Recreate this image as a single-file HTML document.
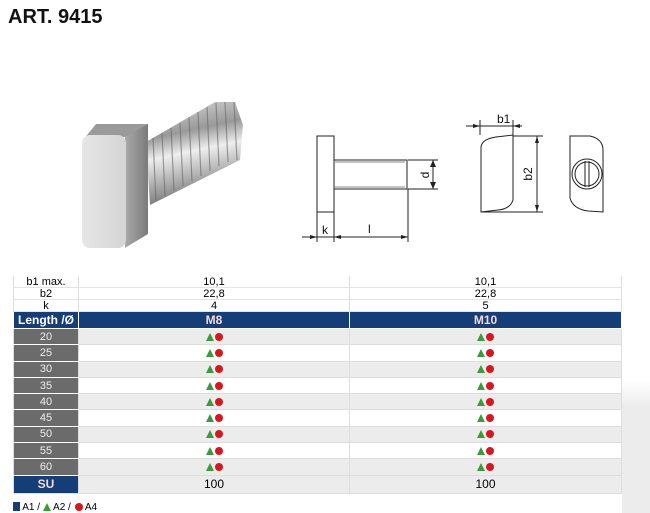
<!DOCTYPE html>
<html><head><meta charset="utf-8"><style>
body{margin:0;width:650px;height:513px;background:#fff;position:relative;overflow:hidden;font-family:"Liberation Sans",sans-serif}
.t{position:absolute;left:8px;top:6px;font-weight:bold;font-size:20px;color:#111}
table{position:absolute;left:13px;top:276px;border-collapse:collapse;font-family:"Liberation Sans Narrow","Liberation Sans",sans-serif;font-size:11px}
td{padding:0;text-align:center;border-left:1px solid #ddd;border-right:1px solid #ddd;line-height:10px}
td.a{width:64px}td.b{width:270px}td.c{width:271px}
tr.top td{height:11px;border-bottom:1px solid #e4e4e4}
tr.h td{background:#153e79;color:#fff;font-weight:bold;height:16px;font-size:12px;border:1px solid #fff}
tr.h td.b,tr.h td.c{color:#f7d9d9}
tr.d td{height:15.3px;border-bottom:1px solid #ddd}
tr.d td.a{background:#6b6b6b;color:#eee;border-bottom:1px solid #fff}
tr.g td.b,tr.g td.c{background:#ececec}
.tri{display:inline-block;width:0;height:0;border-left:4px solid transparent;border-right:4px solid transparent;border-bottom:8px solid #3c9a3a;vertical-align:-1px}
.dot{display:inline-block;width:8px;height:8px;border-radius:50%;background:#d8161e;margin-left:1px;vertical-align:-1px}
tr.s td{height:17px;background:#ececec;font-size:12px;border-bottom:1px solid #ddd}
tr.s td.a{background:#153e79;color:#f7d9d9;font-weight:bold}
</style></head><body>
<div style="position:absolute;left:622px;top:380px;width:28px;height:133px;background:linear-gradient(#fff,#ececec 20%)"></div>
<div class="t">ART. 9415</div>
<svg width="650" height="270" style="position:absolute;left:0;top:0">
<defs>
<linearGradient id="sh" x1="0" y1="0" x2="0.2" y2="1"><stop offset="0" stop-color="#ddd"/><stop offset="0.35" stop-color="#999"/><stop offset="0.55" stop-color="#eee"/><stop offset="1" stop-color="#777"/></linearGradient>
<linearGradient id="fr" x1="0" y1="0" x2="1" y2="0"><stop offset="0" stop-color="#e6e6e6"/><stop offset="1" stop-color="#d4d4d4"/></linearGradient>
<linearGradient id="sd" x1="0" y1="0" x2="1" y2="0"><stop offset="0" stop-color="#aaa"/><stop offset="1" stop-color="#7a7a7a"/></linearGradient>
</defs>
<polygon points="146,142 215,102 235,102 243,125 240,160 150,205" fill="url(#sh)"/>
<g stroke="#666" stroke-width="1.2" opacity="0.6">
<line x1="153" y1="138" x2="156" y2="201"/><line x1="162" y1="133" x2="165" y2="196"/><line x1="171" y1="128" x2="174" y2="191"/><line x1="180" y1="123" x2="183" y2="186"/><line x1="189" y1="117" x2="192" y2="181"/><line x1="198" y1="112" x2="201" y2="176"/><line x1="207" y1="107" x2="210" y2="171"/><line x1="216" y1="103" x2="219" y2="166"/><line x1="225" y1="102" x2="228" y2="162"/><line x1="234" y1="102" x2="237" y2="160"/>
</g>
<polygon points="125,136 148,124 148,234 125,248" fill="url(#sd)"/>
<polygon points="83,140 96,124 148,124 125,137" fill="#9a9a9a"/>
<rect x="82" y="135" width="44" height="113" rx="8" fill="url(#fr)"/>
<g fill="none" stroke="#222" stroke-width="1">
<rect x="317" y="136" width="17" height="76"/>
<rect x="334" y="160" width="73" height="29"/>
<line x1="334" y1="162" x2="405" y2="162" stroke="#888"/><line x1="334" y1="187" x2="405" y2="187" stroke="#888"/>
<line x1="408" y1="160" x2="438" y2="160"/><line x1="408" y1="189" x2="438" y2="189"/>
<line x1="433" y1="160" x2="433" y2="189"/>
<line x1="317" y1="212" x2="317" y2="242"/><line x1="334" y1="212" x2="334" y2="242"/><line x1="408" y1="189" x2="408" y2="242"/>
<line x1="302" y1="237" x2="408" y2="237"/>
<path d="M481,147 Q482,139 496,137 L513,135 L513,200 Q510,209 498,210 L481,212 Z"/>
<line x1="480" y1="135" x2="480" y2="120"/><line x1="513" y1="135" x2="513" y2="120"/>
<line x1="466" y1="126" x2="522" y2="126"/>
<line x1="513" y1="136" x2="543" y2="136"/><line x1="481" y1="212" x2="543" y2="212"/>
<line x1="537" y1="136" x2="537" y2="212"/>
<path d="M570,136 L590,136 Q603,139 603,150 L603,212 L588,211 Q573,209 570,198 Z"/>
<circle cx="587" cy="174" r="15"/><circle cx="587" cy="174" r="12"/>
<line x1="585" y1="161" x2="585" y2="187"/><line x1="589" y1="161" x2="589" y2="187"/>
</g>
<g fill="#222">
<polygon points="433,160 430,167 436,167"/><polygon points="433,189 430,182 436,182"/>
<polygon points="317,237 310,235 310,239"/><polygon points="334,237 341,235 341,239"/><polygon points="408,237 401,235 401,239"/>
<polygon points="480,126 473,124 473,128"/><polygon points="513,126 520,124 520,128"/>
<polygon points="537,136 535,143 539,143"/><polygon points="537,212 535,205 539,205"/>
</g>
<g font-family="Liberation Sans" font-size="12" fill="#111">
<text x="322" y="234">k</text><text x="368" y="233">l</text>
<text x="497" y="123">b1</text>
<text transform="translate(429,175) rotate(-90)" text-anchor="middle">d</text>
<text transform="translate(532,174) rotate(-90)" text-anchor="middle">b2</text>
</g>
</svg>
<table>
<tr class="top"><td class="a">b1 max.</td><td class="b">10,1</td><td class="c">10,1</td></tr>
<tr class="top"><td class="a">b2</td><td class="b">22,8</td><td class="c">22,8</td></tr>
<tr class="top"><td class="a">k</td><td class="b">4</td><td class="c">5</td></tr>
<tr class="h"><td class="a">Length /Ø</td><td class="b">M8</td><td class="c">M10</td></tr>
<tr class="d g"><td class="a">20</td><td class="b"><i class="tri"></i><i class="dot"></i></td><td class="c"><i class="tri"></i><i class="dot"></i></td></tr>
<tr class="d"><td class="a">25</td><td class="b"><i class="tri"></i><i class="dot"></i></td><td class="c"><i class="tri"></i><i class="dot"></i></td></tr>
<tr class="d g"><td class="a">30</td><td class="b"><i class="tri"></i><i class="dot"></i></td><td class="c"><i class="tri"></i><i class="dot"></i></td></tr>
<tr class="d"><td class="a">35</td><td class="b"><i class="tri"></i><i class="dot"></i></td><td class="c"><i class="tri"></i><i class="dot"></i></td></tr>
<tr class="d g"><td class="a">40</td><td class="b"><i class="tri"></i><i class="dot"></i></td><td class="c"><i class="tri"></i><i class="dot"></i></td></tr>
<tr class="d"><td class="a">45</td><td class="b"><i class="tri"></i><i class="dot"></i></td><td class="c"><i class="tri"></i><i class="dot"></i></td></tr>
<tr class="d g"><td class="a">50</td><td class="b"><i class="tri"></i><i class="dot"></i></td><td class="c"><i class="tri"></i><i class="dot"></i></td></tr>
<tr class="d"><td class="a">55</td><td class="b"><i class="tri"></i><i class="dot"></i></td><td class="c"><i class="tri"></i><i class="dot"></i></td></tr>
<tr class="d g"><td class="a">60</td><td class="b"><i class="tri"></i><i class="dot"></i></td><td class="c"><i class="tri"></i><i class="dot"></i></td></tr>
<tr class="s"><td class="a">SU</td><td class="b">100</td><td class="c">100</td></tr>
</table>
<div style="position:absolute;left:13px;top:502px;font-size:10px;font-family:'Liberation Sans Narrow','Liberation Sans',sans-serif;line-height:10px;white-space:nowrap">
<span style="display:inline-block;width:7px;height:9px;background:#153e79;vertical-align:-1px"></span> A1 / <i class="tri"></i> A2 / <i class="dot"></i> A4</div>
</body></html>
